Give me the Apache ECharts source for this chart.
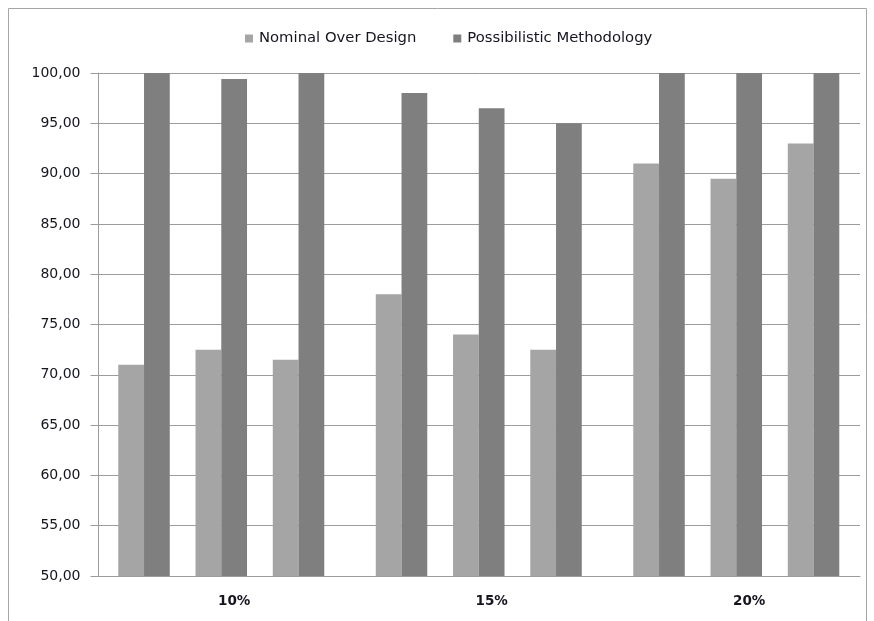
<!DOCTYPE html>
<html>
<head>
<meta charset="utf-8">
<script src="https://cdn.jsdelivr.net/npm/echarts@6/dist/echarts.min.js"></script>
<style>
  html, body { margin: 0; padding: 0; background: #ffffff; }
  #chart { width: 874px; height: 621px; }
</style>
</head>
<body>
<div id="chart"></div>
<script>
// Uncertainty levels shown on the horizontal axis
const groups = ['10%', '15%', '20%'];
// Three cases per uncertainty level, listed level by level
const nominalOverDesign = [71.0, 72.5, 71.5, 78.0, 74.0, 72.5, 91.0, 89.5, 93.0];
const possibilisticMethodology = [100.0, 99.4, 100.0, 98.0, 96.5, 95.0, 100.0, 100.0, 100.0];
// Value axis range and step
const yMin = 50;
const yMax = 100;
const yStep = 5;

const seriesNames = ['Nominal Over Design', 'Possibilistic Methodology'];
const colors = ['#a5a5a5', '#7f7f7f'];
const casesPerGroup = 3;

// Pick the values of case `c` in every group
function caseValues(arr, c) {
  return groups.map((g, gi) => arr[gi * casesPerGroup + c]);
}

const series = [];
for (let c = 0; c < casesPerGroup; c++) {
  series.push({
    name: seriesNames[0], type: 'bar', xAxisIndex: 0, yAxisIndex: 0,
    data: caseValues(nominalOverDesign, c),
    itemStyle: { color: colors[0] }, barGap: '0%', barCategoryGap: '10%'
  });
  series.push({
    name: seriesNames[1], type: 'bar', xAxisIndex: 0, yAxisIndex: 0,
    data: caseValues(possibilisticMethodology, c),
    itemStyle: { color: colors[1] }, barGap: '0%', barCategoryGap: '10%'
  });
  // empty slot separating one case from the next
  series.push({
    name: 'spacer' + c, type: 'bar', xAxisIndex: 0, yAxisIndex: 0,
    data: groups.map(() => null),
    barGap: '0%', barCategoryGap: '10%', silent: true
  });
}

const textColor = '#15151f';
const lineColor = '#9c9c9c';

const chart = echarts.init(document.getElementById('chart'), null, { renderer: 'canvas' });
chart.setOption({
  animation: false,
  backgroundColor: '#ffffff',
  graphic: [{
    type: 'rect', silent: true, z: -10,
    shape: { x: 8.5, y: 8.5, width: 858, height: 640 },
    style: { fill: null, stroke: '#a6a6a6', lineWidth: 1 }
  }],
  legend: {
    data: seriesNames,
    top: 26, left: 240,
    itemWidth: 8, itemHeight: 8, itemGap: 37,
    icon: 'rect',
    textStyle: { fontFamily: 'DejaVu Sans', fontSize: 14.8, color: textColor, padding: [0, 0, 0, 1] }
  },
  grid: [
    // bar layout grid
    { left: 105.4, top: 73, width: 772.5, height: 503, outerBoundsMode: 'none', containLabel: false },
    // visible frame: axis lines, gridlines, value labels
    { left: 98.5, top: 73, width: 761.5, height: 503, outerBoundsMode: 'none', containLabel: false }
  ],
  xAxis: [
    {
      gridIndex: 0, type: 'category', data: groups,
      axisLine: { show: false }, axisTick: { show: false },
      axisLabel: { margin: 18, fontFamily: 'DejaVu Sans', fontWeight: 'bold', fontSize: 13.5, color: textColor }
    },
    {
      gridIndex: 1, type: 'category', data: [''],
      axisLine: { show: true, lineStyle: { color: lineColor, width: 1 } },
      axisTick: { show: false }, axisLabel: { show: false }, splitLine: { show: false }
    }
  ],
  yAxis: [
    {
      gridIndex: 0, type: 'value', min: yMin, max: yMax, interval: yStep,
      show: false, splitLine: { show: false }
    },
    {
      gridIndex: 1, type: 'value', min: yMin, max: yMax, interval: yStep,
      axisLine: { show: true, lineStyle: { color: lineColor, width: 1 } },
      axisTick: { show: true, inside: false, length: 8, lineStyle: { color: lineColor } },
      splitLine: { show: true, lineStyle: { color: lineColor, width: 1 } },
      axisLabel: {
        margin: 18, fontFamily: 'DejaVu Sans', fontSize: 14, color: textColor,
        formatter: v => v.toFixed(2).replace('.', ',')
      }
    }
  ],
  series: series
});
</script>
</body>
</html>
